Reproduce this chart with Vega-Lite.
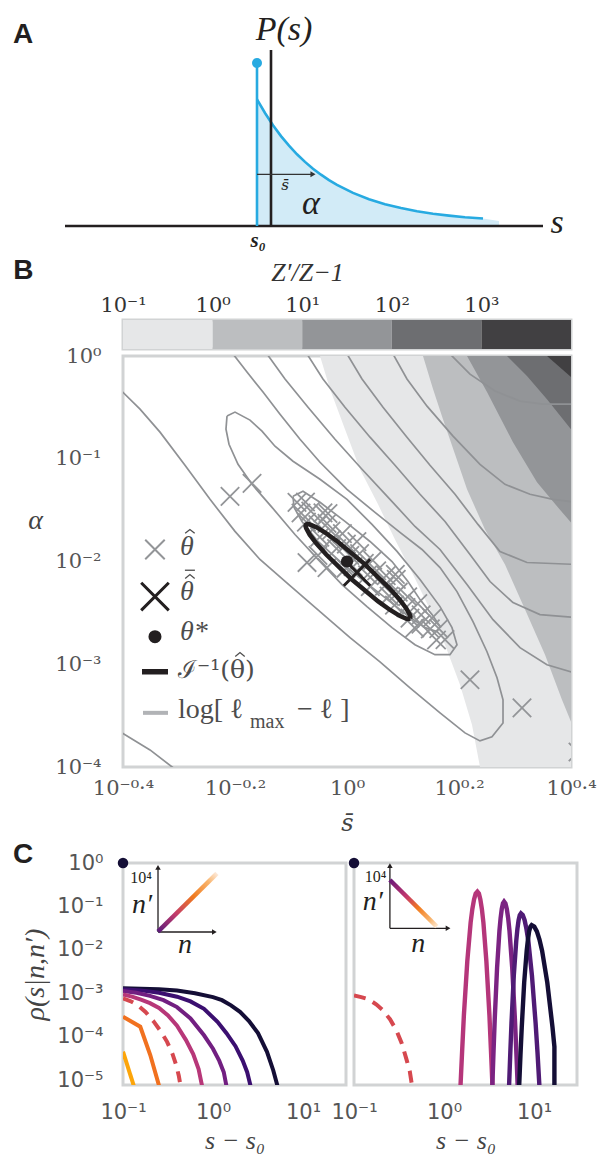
{
"$schema": "https://vega.github.io/schema/vega-lite/v6.json",
"background": "white",
"padding": 0,
"spacing": 7,
"bounds": "flush",
"resolve": {"scale": {"color": "independent"}},
"config": {"view": {"stroke": null}},
"datasets": {
"A_curve": [{"s":0,"P":1.267},{"s":0.2,"P":1.13},{"s":0.4,"P":1.008},{"s":0.6,"P":0.899},{"s":0.8,"P":0.803},{"s":1.0,"P":0.717},{"s":1.2,"P":0.641},{"s":1.4,"P":0.573},{"s":1.6,"P":0.513},{"s":1.8,"P":0.459},{"s":2.0,"P":0.411},{"s":2.4,"P":0.331},{"s":2.8,"P":0.268},{"s":3.2,"P":0.218},{"s":3.6,"P":0.179},{"s":4.0,"P":0.148},{"s":4.4,"P":0.123},{"s":4.8,"P":0.104},{"s":5.2,"P":0.088},{"s":5.65,"P":0.0745}],
"A_fill": [{"s":0,"P":1.267},{"s":0.2,"P":1.13},{"s":0.4,"P":1.008},{"s":0.6,"P":0.899},{"s":0.8,"P":0.803},{"s":1.0,"P":0.717},{"s":1.2,"P":0.641},{"s":1.4,"P":0.573},{"s":1.6,"P":0.513},{"s":1.8,"P":0.459},{"s":2.0,"P":0.411},{"s":2.4,"P":0.331},{"s":2.8,"P":0.268},{"s":3.2,"P":0.218},{"s":3.6,"P":0.179},{"s":4.0,"P":0.148},{"s":4.4,"P":0.123},{"s":4.8,"P":0.104},{"s":5.2,"P":0.088},{"s":5.65,"P":0.0745},{"s":6.05,"P":0.05}],
"R1": [{"lx":-0.0482,"ly":0},{"lx":-0.0304,"ly":-0.322},{"lx":-0.0036,"ly":-0.712},{"lx":0.0232,"ly":-1.102},{"lx":0.0554,"ly":-1.444},{"lx":0.0857,"ly":-1.785},{"lx":0.1179,"ly":-2.127},{"lx":0.1482,"ly":-2.468},{"lx":0.175,"ly":-2.81},{"lx":0.2018,"ly":-3.2},{"lx":0.2232,"ly":-3.59},{"lx":0.2375,"ly":-4}],
"R2": [{"lx":0.1357,"ly":0},{"lx":0.1536,"ly":-0.322},{"lx":0.1714,"ly":-0.615},{"lx":0.1929,"ly":-0.956},{"lx":0.2143,"ly":-1.298},{"lx":0.2464,"ly":-1.688},{"lx":0.2821,"ly":-2.029},{"lx":0.3179,"ly":-2.468},{"lx":0.3536,"ly":-2.907},{"lx":0.3839,"ly":-3.346},{"lx":0.4,"ly":-3.56}],
"R3": [{"lx":0.2143,"ly":0},{"lx":0.25,"ly":-0.351},{"lx":0.2964,"ly":-0.839},{"lx":0.3393,"ly":-1.229},{"lx":0.375,"ly":-1.463},{"lx":0.4,"ly":-1.62}],
"R4": [{"lx":0.2857,"ly":0},{"lx":0.3214,"ly":-0.195},{"lx":0.3571,"ly":-0.42},{"lx":0.4,"ly":-0.712}],
"R5": [{"lx":0.3571,"ly":0},{"lx":0.4,"ly":-0.205}],
"contours": [
{"id":"c1","i":0,"lx":-0.0964,"ly":-1.366},{"id":"c1","i":1,"lx":-0.0786,"ly":-1.317},{"id":"c1","i":2,"lx":-0.0482,"ly":-1.424},{"id":"c1","i":3,"lx":-0.0036,"ly":-1.61},{"id":"c1","i":4,"lx":0.0411,"ly":-1.805},{"id":"c1","i":5,"lx":0.0804,"ly":-2.0},{"id":"c1","i":6,"lx":0.1089,"ly":-2.195},{"id":"c1","i":7,"lx":0.1304,"ly":-2.371},{"id":"c1","i":8,"lx":0.1518,"ly":-2.517},{"id":"c1","i":9,"lx":0.1661,"ly":-2.634},{"id":"c1","i":10,"lx":0.1607,"ly":-2.683},{"id":"c1","i":11,"lx":0.1393,"ly":-2.644},{"id":"c1","i":12,"lx":0.1036,"ly":-2.507},{"id":"c1","i":13,"lx":0.0679,"ly":-2.351},{"id":"c1","i":14,"lx":0.0268,"ly":-2.176},{"id":"c1","i":15,"lx":-0.0125,"ly":-2.0},{"id":"c1","i":16,"lx":-0.0518,"ly":-1.805},{"id":"c1","i":17,"lx":-0.0804,"ly":-1.61},{"id":"c1","i":18,"lx":-0.0946,"ly":-1.473},{"id":"c1","i":19,"lx":-0.0964,"ly":-1.366},
{"id":"c2","i":0,"lx":-0.2143,"ly":-0.585},{"id":"c2","i":1,"lx":-0.2,"ly":-0.546},{"id":"c2","i":2,"lx":-0.1732,"ly":-0.624},{"id":"c2","i":3,"lx":-0.1518,"ly":-0.732},{"id":"c2","i":4,"lx":-0.1286,"ly":-0.878},{"id":"c2","i":5,"lx":-0.0964,"ly":-1.024},{"id":"c2","i":6,"lx":-0.0482,"ly":-1.2},{"id":"c2","i":7,"lx":0,"ly":-1.395},{"id":"c2","i":8,"lx":0.0446,"ly":-1.639},{"id":"c2","i":9,"lx":0.0893,"ly":-1.902},{"id":"c2","i":10,"lx":0.1304,"ly":-2.176},{"id":"c2","i":11,"lx":0.1661,"ly":-2.439},{"id":"c2","i":12,"lx":0.1875,"ly":-2.644},{"id":"c2","i":13,"lx":0.1964,"ly":-2.81},{"id":"c2","i":14,"lx":0.1839,"ly":-2.907},{"id":"c2","i":15,"lx":0.1571,"ly":-2.907},{"id":"c2","i":16,"lx":0.1214,"ly":-2.81},{"id":"c2","i":17,"lx":0.0804,"ly":-2.644},{"id":"c2","i":18,"lx":0.0357,"ly":-2.439},{"id":"c2","i":19,"lx":-0.0089,"ly":-2.224},{"id":"c2","i":20,"lx":-0.0518,"ly":-1.98},{"id":"c2","i":21,"lx":-0.0929,"ly":-1.737},{"id":"c2","i":22,"lx":-0.1339,"ly":-1.473},{"id":"c2","i":23,"lx":-0.1696,"ly":-1.249},{"id":"c2","i":24,"lx":-0.1946,"ly":-1.054},{"id":"c2","i":25,"lx":-0.2107,"ly":-0.859},{"id":"c2","i":26,"lx":-0.2161,"ly":-0.712},{"id":"c2","i":27,"lx":-0.2143,"ly":-0.585},
{"id":"c3","i":0,"lx":-0.2036,"ly":0.02},{"id":"c3","i":1,"lx":-0.1786,"ly":-0.156},{"id":"c3","i":2,"lx":-0.15,"ly":-0.351},{"id":"c3","i":3,"lx":-0.1196,"ly":-0.566},{"id":"c3","i":4,"lx":-0.0839,"ly":-0.81},{"id":"c3","i":5,"lx":-0.0482,"ly":-1.034},{"id":"c3","i":6,"lx":0,"ly":-1.298},{"id":"c3","i":7,"lx":0.05,"ly":-1.522},{"id":"c3","i":8,"lx":0.0946,"ly":-1.717},{"id":"c3","i":9,"lx":0.1339,"ly":-1.883},{"id":"c3","i":10,"lx":0.1661,"ly":-2.059},{"id":"c3","i":11,"lx":0.1964,"ly":-2.293},{"id":"c3","i":12,"lx":0.225,"ly":-2.585},{"id":"c3","i":13,"lx":0.25,"ly":-2.878},{"id":"c3","i":14,"lx":0.2679,"ly":-3.132},{"id":"c3","i":15,"lx":0.2786,"ly":-3.346},{"id":"c3","i":16,"lx":0.2786,"ly":-3.571},{"id":"c3","i":17,"lx":0.2589,"ly":-3.707},{"id":"c3","i":18,"lx":0.2375,"ly":-3.746},{"id":"c3","i":19,"lx":0.2107,"ly":-3.668},{"id":"c3","i":20,"lx":0.1661,"ly":-3.473},{"id":"c3","i":21,"lx":0.1125,"ly":-3.229},{"id":"c3","i":22,"lx":0.0589,"ly":-2.976},{"id":"c3","i":23,"lx":0.0054,"ly":-2.741},{"id":"c3","i":24,"lx":-0.0482,"ly":-2.488},{"id":"c3","i":25,"lx":-0.1018,"ly":-2.234},{"id":"c3","i":26,"lx":-0.1554,"ly":-1.98},{"id":"c3","i":27,"lx":-0.2,"ly":-1.707},{"id":"c3","i":28,"lx":-0.2446,"ly":-1.395},{"id":"c3","i":29,"lx":-0.2893,"ly":-1.063},{"id":"c3","i":30,"lx":-0.3339,"ly":-0.741},{"id":"c3","i":31,"lx":-0.3696,"ly":-0.517},{"id":"c3","i":32,"lx":-0.41,"ly":-0.3},
{"id":"k4","i":0,"lx":-0.1429,"ly":0.02},{"id":"k4","i":1,"lx":-0.1107,"ly":-0.224},{"id":"k4","i":2,"lx":-0.0696,"ly":-0.498},{"id":"k4","i":3,"lx":-0.0214,"ly":-0.81},{"id":"k4","i":4,"lx":0.0268,"ly":-1.102},{"id":"k4","i":5,"lx":0.0768,"ly":-1.395},{"id":"k4","i":6,"lx":0.1214,"ly":-1.659},{"id":"k4","i":7,"lx":0.1661,"ly":-1.883},{"id":"k4","i":8,"lx":0.2143,"ly":-2.224},{"id":"k4","i":9,"lx":0.2607,"ly":-2.566},{"id":"k4","i":10,"lx":0.3089,"ly":-2.839},{"id":"k4","i":11,"lx":0.3571,"ly":-3.005},{"id":"k4","i":12,"lx":0.41,"ly":-3.09},
{"id":"k5","i":0,"lx":-0.0714,"ly":0.02},{"id":"k5","i":1,"lx":-0.0429,"ly":-0.224},{"id":"k5","i":2,"lx":-0.0036,"ly":-0.498},{"id":"k5","i":3,"lx":0.0411,"ly":-0.79},{"id":"k5","i":4,"lx":0.0857,"ly":-1.063},{"id":"k5","i":5,"lx":0.1304,"ly":-1.346},{"id":"k5","i":6,"lx":0.175,"ly":-1.61},{"id":"k5","i":7,"lx":0.2196,"ly":-1.932},{"id":"k5","i":8,"lx":0.2554,"ly":-2.195},{"id":"k5","i":9,"lx":0.2964,"ly":-2.4},{"id":"k5","i":10,"lx":0.3446,"ly":-2.517},{"id":"k5","i":11,"lx":0.41,"ly":-2.546},
{"id":"k6","i":0,"lx":0,"ly":0.02},{"id":"k6","i":1,"lx":0.0268,"ly":-0.224},{"id":"k6","i":2,"lx":0.0643,"ly":-0.498},{"id":"k6","i":3,"lx":0.1071,"ly":-0.79},{"id":"k6","i":4,"lx":0.1482,"ly":-1.063},{"id":"k6","i":5,"lx":0.1929,"ly":-1.346},{"id":"k6","i":6,"lx":0.2339,"ly":-1.639},{"id":"k6","i":7,"lx":0.2732,"ly":-1.902},{"id":"k6","i":8,"lx":0.3214,"ly":-2.01},{"id":"k6","i":9,"lx":0.41,"ly":-2.029},
{"id":"k7","i":0,"lx":0.0821,"ly":0.02},{"id":"k7","i":1,"lx":0.1071,"ly":-0.224},{"id":"k7","i":2,"lx":0.1429,"ly":-0.488},{"id":"k7","i":3,"lx":0.1893,"ly":-0.78},{"id":"k7","i":4,"lx":0.2375,"ly":-1.054},{"id":"k7","i":5,"lx":0.2821,"ly":-1.249},{"id":"k7","i":6,"lx":0.3268,"ly":-1.346},{"id":"k7","i":7,"lx":0.3679,"ly":-1.395},{"id":"k7","i":8,"lx":0.41,"ly":-1.424},
{"id":"k8","i":0,"lx":0.1839,"ly":0.02},{"id":"k8","i":1,"lx":0.2196,"ly":-0.176},{"id":"k8","i":2,"lx":0.2643,"ly":-0.341},{"id":"k8","i":3,"lx":0.3089,"ly":-0.439},{"id":"k8","i":4,"lx":0.35,"ly":-0.468},{"id":"k8","i":5,"lx":0.41,"ly":-0.468},
{"id":"bl","i":0,"lx":-0.41,"ly":-3.64},{"id":"bl","i":1,"lx":-0.3518,"ly":-3.834},{"id":"bl","i":2,"lx":-0.305,"ly":-4.03}
],
"crosses": [
{"lx":-0.0893,"ly":-1.424},{"lx":-0.0741,"ly":-1.421},{"lx":-0.0821,"ly":-1.528},{"lx":-0.0646,"ly":-1.51},{"lx":-0.0725,"ly":-1.616},{"lx":-0.0429,"ly":-1.527},{"lx":-0.0521,"ly":-1.64},{"lx":-0.0357,"ly":-1.629},{"lx":-0.0486,"ly":-1.763},{"lx":-0.0286,"ly":-1.703},{"lx":-0.028,"ly":-1.787},{"lx":-0.0082,"ly":-1.728},{"lx":-0.0186,"ly":-1.875},{"lx":-0.0011,"ly":-1.83},{"lx":0.0177,"ly":-1.806},{"lx":0.005,"ly":-1.94},{"lx":0.0225,"ly":-1.923},{"lx":0.0109,"ly":-2.05},{"lx":0.0309,"ly":-2.019},{"lx":0.0459,"ly":-1.988},{"lx":0.0368,"ly":-2.129},{"lx":0.053,"ly":-2.091},{"lx":0.0416,"ly":-2.245},{"lx":0.07,"ly":-2.137},{"lx":0.0668,"ly":-2.241},{"lx":0.088,"ly":-2.174},{"lx":0.0752,"ly":-2.336},{"lx":0.0914,"ly":-2.299},{"lx":0.0848,"ly":-2.424},{"lx":0.1084,"ly":-2.343},{"lx":0.1054,"ly":-2.449},{"lx":0.1264,"ly":-2.41},{"lx":0.1125,"ly":-2.551},{"lx":0.1325,"ly":-2.519},{"lx":0.132,"ly":-2.61},{"lx":0.1518,"ly":-2.551},{"lx":0.1488,"ly":-2.656},{"lx":0.1639,"ly":-2.653},{"lx":0.1598,"ly":-2.764},{"lx":0.175,"ly":-2.761},{"lx":-0.0018,"ly":-2.066},{"lx":0.0863,"ly":-2.126},{"lx":-0.0339,"ly":-1.533},{"lx":0.1209,"ly":-2.647},{"lx":-0.0714,"ly":-2.01},{"lx":-0.0357,"ly":-2.059},{"lx":-0.0518,"ly":-1.941},
{"lx":-0.2089,"ly":-1.366},{"lx":-0.1696,"ly":-1.239},{"lx":0.2196,"ly":-3.151},{"lx":0.3125,"ly":-3.424},{"lx":0.4125,"ly":-3.854}
],
"ellipse": [
{"i":0,"lx":0.1125,"ly":-2.554},{"i":1,"lx":0.1132,"ly":-2.541},{"i":2,"lx":0.1123,"ly":-2.52},{"i":3,"lx":0.1059,"ly":-2.457},{"i":4,"lx":0.0938,"ly":-2.369},{"i":5,"lx":0.0764,"ly":-2.263},{"i":6,"lx":0.0316,"ly":-2.025},{"i":7,"lx":-0.0164,"ly":-1.807},{"i":8,"lx":-0.0377,"ly":-1.723},{"i":9,"lx":-0.0548,"ly":-1.666},{"i":10,"lx":-0.067,"ly":-1.638},{"i":11,"lx":-0.0709,"ly":-1.635},{"i":12,"lx":-0.0732,"ly":-1.641},{"i":13,"lx":-0.0741,"ly":-1.655},{"i":14,"lx":-0.073,"ly":-1.675},{"i":15,"lx":-0.0666,"ly":-1.739},{"i":16,"lx":-0.0545,"ly":-1.826},{"i":17,"lx":-0.0371,"ly":-1.932},{"i":18,"lx":0.0077,"ly":-2.17},{"i":19,"lx":0.0557,"ly":-2.388},{"i":20,"lx":0.077,"ly":-2.472},{"i":21,"lx":0.0941,"ly":-2.529},{"i":22,"lx":0.1063,"ly":-2.557},{"i":23,"lx":0.1102,"ly":-2.56},{"i":24,"lx":0.1125,"ly":-2.554}
],
"CL": [
{"id":"c1","i":0,"lx":-1,"ly":-2.887},{"id":"c1","i":1,"lx":-0.8,"ly":-2.895},{"id":"c1","i":2,"lx":-0.6,"ly":-2.91},{"id":"c1","i":3,"lx":-0.4,"ly":-2.94},{"id":"c1","i":4,"lx":-0.2,"ly":-3.0},{"id":"c1","i":5,"lx":0,"ly":-3.09},{"id":"c1","i":6,"lx":0.1,"ly":-3.16},{"id":"c1","i":7,"lx":0.2,"ly":-3.28},{"id":"c1","i":8,"lx":0.3,"ly":-3.43},{"id":"c1","i":9,"lx":0.4,"ly":-3.64},{"id":"c1","i":10,"lx":0.5,"ly":-3.92},{"id":"c1","i":11,"lx":0.6,"ly":-4.35},{"id":"c1","i":12,"lx":0.67,"ly":-4.78},{"id":"c1","i":13,"lx":0.725,"ly":-5.2},
{"id":"c2","i":0,"lx":-1,"ly":-2.91},{"id":"c2","i":1,"lx":-0.8,"ly":-2.935},{"id":"c2","i":2,"lx":-0.6,"ly":-2.99},{"id":"c2","i":3,"lx":-0.4,"ly":-3.08},{"id":"c2","i":4,"lx":-0.25,"ly":-3.19},{"id":"c2","i":5,"lx":-0.1,"ly":-3.36},{"id":"c2","i":6,"lx":0.05,"ly":-3.66},{"id":"c2","i":7,"lx":0.15,"ly":-3.92},{"id":"c2","i":8,"lx":0.25,"ly":-4.22},{"id":"c2","i":9,"lx":0.33,"ly":-4.55},{"id":"c2","i":10,"lx":0.38,"ly":-4.82},{"id":"c2","i":11,"lx":0.425,"ly":-5.2},
{"id":"c3","i":0,"lx":-1,"ly":-2.95},{"id":"c3","i":1,"lx":-0.85,"ly":-2.99},{"id":"c3","i":2,"lx":-0.7,"ly":-3.06},{"id":"c3","i":3,"lx":-0.55,"ly":-3.16},{"id":"c3","i":4,"lx":-0.4,"ly":-3.32},{"id":"c3","i":5,"lx":-0.25,"ly":-3.58},{"id":"c3","i":6,"lx":-0.1,"ly":-3.97},{"id":"c3","i":7,"lx":0,"ly":-4.28},{"id":"c3","i":8,"lx":0.07,"ly":-4.56},{"id":"c3","i":9,"lx":0.12,"ly":-4.82},{"id":"c3","i":10,"lx":0.155,"ly":-5.2},
{"id":"c4","i":0,"lx":-1,"ly":-3.03},{"id":"c4","i":1,"lx":-0.9,"ly":-3.08},{"id":"c4","i":2,"lx":-0.8,"ly":-3.15},{"id":"c4","i":3,"lx":-0.7,"ly":-3.23},{"id":"c4","i":4,"lx":-0.6,"ly":-3.34},{"id":"c4","i":5,"lx":-0.5,"ly":-3.51},{"id":"c4","i":6,"lx":-0.4,"ly":-3.75},{"id":"c4","i":7,"lx":-0.3,"ly":-4.08},{"id":"c4","i":8,"lx":-0.22,"ly":-4.4},{"id":"c4","i":9,"lx":-0.16,"ly":-4.75},{"id":"c4","i":10,"lx":-0.115,"ly":-5.2},
{"id":"c6","i":0,"lx":-1,"ly":-3.541},{"id":"c6","i":1,"lx":-0.808,"ly":-3.772},{"id":"c6","i":2,"lx":-0.697,"ly":-4.424},{"id":"c6","i":3,"lx":-0.59,"ly":-5.2},
{"id":"c7","i":0,"lx":-1,"ly":-4.347},{"id":"c7","i":1,"lx":-0.87,"ly":-5.2}
],
"CL_dash": [{"i":0,"lx":-1,"ly":-3.12},{"i":1,"lx":-0.92,"ly":-3.18},{"i":2,"lx":-0.84,"ly":-3.27},{"i":3,"lx":-0.75,"ly":-3.43},{"i":4,"lx":-0.66,"ly":-3.65},{"i":5,"lx":-0.58,"ly":-3.88},{"i":6,"lx":-0.51,"ly":-4.12},{"i":7,"lx":-0.45,"ly":-4.4},{"i":8,"lx":-0.41,"ly":-4.65},{"i":9,"lx":-0.38,"ly":-4.9},{"i":10,"lx":-0.355,"ly":-5.2}],
"CR_dash": [{"i":0,"lx":-1,"ly":-3.05},{"i":1,"lx":-0.92,"ly":-3.09},{"i":2,"lx":-0.84,"ly":-3.14},{"i":3,"lx":-0.75,"ly":-3.26},{"i":4,"lx":-0.68,"ly":-3.39},{"i":5,"lx":-0.6,"ly":-3.6},{"i":6,"lx":-0.53,"ly":-3.85},{"i":7,"lx":-0.47,"ly":-4.15},{"i":8,"lx":-0.42,"ly":-4.5},{"i":9,"lx":-0.38,"ly":-4.8},{"i":10,"lx":-0.35,"ly":-5.2}],
"CR_peaks": [
{"id":"p1","i":0,"lx":0.182,"ly":-5.2},{"id":"p1","i":1,"lx":0.203,"ly":-4.269},{"id":"p1","i":2,"lx":0.221,"ly":-3.511},{"id":"p1","i":3,"lx":0.259,"ly":-2.264},{"id":"p1","i":4,"lx":0.296,"ly":-1.373},{"id":"p1","i":5,"lx":0.315,"ly":-1.061},{"id":"p1","i":6,"lx":0.334,"ly":-0.838},{"id":"p1","i":7,"lx":0.352,"ly":-0.705},{"id":"p1","i":8,"lx":0.371,"ly":-0.66},{"id":"p1","i":9,"lx":0.388,"ly":-0.705},{"id":"p1","i":10,"lx":0.404,"ly":-0.838},{"id":"p1","i":11,"lx":0.421,"ly":-1.061},{"id":"p1","i":12,"lx":0.438,"ly":-1.373},{"id":"p1","i":13,"lx":0.471,"ly":-2.264},{"id":"p1","i":14,"lx":0.505,"ly":-3.511},{"id":"p1","i":15,"lx":0.521,"ly":-4.269},{"id":"p1","i":16,"lx":0.54,"ly":-5.2},
{"id":"p2","i":0,"lx":0.536,"ly":-5.2},{"id":"p2","i":1,"lx":0.551,"ly":-4.312},{"id":"p2","i":2,"lx":0.564,"ly":-3.594},{"id":"p2","i":3,"lx":0.59,"ly":-2.411},{"id":"p2","i":4,"lx":0.616,"ly":-1.566},{"id":"p2","i":5,"lx":0.629,"ly":-1.27},{"id":"p2","i":6,"lx":0.642,"ly":-1.059},{"id":"p2","i":7,"lx":0.655,"ly":-0.932},{"id":"p2","i":8,"lx":0.668,"ly":-0.89},{"id":"p2","i":9,"lx":0.683,"ly":-0.932},{"id":"p2","i":10,"lx":0.698,"ly":-1.059},{"id":"p2","i":11,"lx":0.713,"ly":-1.27},{"id":"p2","i":12,"lx":0.728,"ly":-1.566},{"id":"p2","i":13,"lx":0.758,"ly":-2.411},{"id":"p2","i":14,"lx":0.788,"ly":-3.594},{"id":"p2","i":15,"lx":0.803,"ly":-4.312},{"id":"p2","i":16,"lx":0.82,"ly":-5.2},
{"id":"p3","i":0,"lx":0.722,"ly":-5.2},{"id":"p3","i":1,"lx":0.737,"ly":-4.364},{"id":"p3","i":2,"lx":0.75,"ly":-3.691},{"id":"p3","i":3,"lx":0.776,"ly":-2.584},{"id":"p3","i":4,"lx":0.803,"ly":-1.793},{"id":"p3","i":5,"lx":0.816,"ly":-1.516},{"id":"p3","i":6,"lx":0.829,"ly":-1.318},{"id":"p3","i":7,"lx":0.842,"ly":-1.2},{"id":"p3","i":8,"lx":0.855,"ly":-1.16},{"id":"p3","i":9,"lx":0.875,"ly":-1.2},{"id":"p3","i":10,"lx":0.896,"ly":-1.318},{"id":"p3","i":11,"lx":0.916,"ly":-1.516},{"id":"p3","i":12,"lx":0.937,"ly":-1.793},{"id":"p3","i":13,"lx":0.977,"ly":-2.584},{"id":"p3","i":14,"lx":1.018,"ly":-3.691},{"id":"p3","i":15,"lx":1.039,"ly":-4.364},{"id":"p3","i":16,"lx":1.062,"ly":-5.2},
{"id":"p4","i":0,"lx":0.834,"ly":-5.2},{"id":"p4","i":1,"lx":0.85,"ly":-4.415},{"id":"p4","i":2,"lx":0.864,"ly":-3.788},{"id":"p4","i":3,"lx":0.891,"ly":-2.757},{"id":"p4","i":4,"lx":0.919,"ly":-2.02},{"id":"p4","i":5,"lx":0.933,"ly":-1.762},{"id":"p4","i":6,"lx":0.946,"ly":-1.577},{"id":"p4","i":7,"lx":0.96,"ly":-1.467},{"id":"p4","i":8,"lx":0.974,"ly":-1.43},{"id":"p4","i":9,"lx":1.003,"ly":-1.467},{"id":"p4","i":10,"lx":1.032,"ly":-1.577},{"id":"p4","i":11,"lx":1.061,"ly":-1.762},{"id":"p4","i":12,"lx":1.09,"ly":-2.02},{"id":"p4","i":13,"lx":1.148,"ly":-2.757},{"id":"p4","i":14,"lx":1.206,"ly":-3.788},{"id":"p4","i":15,"lx":1.227,"ly":-4.233},{"id":"p4","i":16,"lx":1.227,"ly":-5.2}
]
},
"vconcat": [
{
"width": 448, "height": 277,
"encoding": {
"x": {"field": "s", "type": "quantitative", "scale": {"domain": [-3.35, 7.85], "nice": false, "zero": false}, "axis": null},
"y": {"field": "P", "type": "quantitative", "scale": {"domain": [-0.87, 1.9], "nice": false, "zero": false}, "axis": null}
},
"layer": [
{"data": {"values": [{"s": -6.425, "P": 2.26, "s2": -6.3, "P2": 2.2}]}, "mark": {"type": "rect", "fill": "white"}, "encoding": {"x2": {"field": "s2"}, "y2": {"field": "P2"}}},
{"data": {"name": "A_fill"}, "mark": {"type": "area", "color": "#d2ebf7"}, "encoding": {"y2": {"datum": 0}}},
{"data": {"name": "A_curve"}, "mark": {"type": "line", "color": "#27aae1", "strokeWidth": 2.6}, "encoding": {}},
{"data": {"values": [{"s": -4.8, "s2": 7.15, "P": 0}]}, "mark": {"type": "rule", "color": "#231f20", "strokeWidth": 2.6}, "encoding": {"x2": {"field": "s2"}}},
{"data": {"values": [{"s": 0, "P": 0, "P2": 1.63}]}, "mark": {"type": "rule", "color": "#27aae1", "strokeWidth": 2.6}, "encoding": {"y2": {"field": "P2"}}},
{"data": {"values": [{"s": 0, "P": 1.63}]}, "mark": {"type": "point", "filled": true, "opacity": 1, "color": "#27aae1", "size": 100}, "encoding": {}},
{"data": {"values": [{"s": 0.35, "P": 0, "P2": 1.76}]}, "mark": {"type": "rule", "color": "#231f20", "strokeWidth": 2.6}, "encoding": {"y2": {"field": "P2"}}},
{"data": {"values": [{"s": 0, "s2": 1.35, "P": 0.517}]}, "mark": {"type": "rule", "color": "#333333", "strokeWidth": 1.2}, "encoding": {"x2": {"field": "s2"}}},
{"data": {"values": [{"s": 1.4, "P": 0.517}]}, "mark": {"type": "point", "shape": "triangle-right", "filled": true, "opacity": 1, "color": "#333333", "size": 35}, "encoding": {}},
{"data": {"values": [{"s": 0.675, "P": 1.96, "label": "P(s)"}, {"s": 7.5, "P": 0.03, "label": "s"}, {"s": 1.35, "P": 0.22, "label": "α"}]}, "mark": {"type": "text", "font": "Liberation Serif", "fontStyle": "italic", "fontSize": 34, "color": "#231f20", "baseline": "middle", "align": "center"}, "encoding": {"text": {"field": "label", "type": "nominal"}}},
{"data": {"values": [{"s": 0.7, "P": 0.41, "label": "s̄"}]}, "mark": {"type": "text", "font": "DejaVu Serif", "fontStyle": "italic", "fontSize": 15, "color": "#231f20", "baseline": "middle", "align": "center"}, "encoding": {"text": {"field": "label", "type": "nominal"}}},
{"data": {"values": [{"s": 0.03, "P": -0.15, "label": "s₀"}]}, "mark": {"type": "text", "font": "Liberation Serif", "fontStyle": "italic", "fontWeight": "bold", "fontSize": 21, "color": "#231f20", "baseline": "middle", "align": "center"}, "encoding": {"text": {"field": "label", "type": "nominal"}}},
{"data": {"values": [{"s": -6.1, "P": 1.91, "label": "A"}]}, "mark": {"type": "text", "font": "Liberation Sans", "fontWeight": "bold", "fontSize": 28, "color": "#231f20", "baseline": "middle", "align": "left"}, "encoding": {"text": {"field": "label", "type": "nominal"}}}
]
},
{
"width": 448, "height": 29,
"view": {"stroke": "#d1d3d4", "strokeWidth": 3},
"data": {"values": [{"lo": 0.1, "hi": 1, "c": "a"}, {"lo": 1, "hi": 10, "c": "b"}, {"lo": 10, "hi": 100, "c": "c"}, {"lo": 100, "hi": 1000, "c": "d"}, {"lo": 1000, "hi": 10000, "c": "e"}]},
"mark": {"type": "rect"},
"encoding": {
"x": {"field": "lo", "type": "quantitative", "scale": {"type": "log", "domain": [0.1, 10000], "nice": false}, "axis": {"orient": "top", "values": [0.1, 1, 10, 100, 1000], "labelExpr": "datum.value < 0.5 ? '10⁻¹' : datum.value < 5 ? '10⁰' : datum.value < 50 ? '10¹' : datum.value < 500 ? '10²' : '10³'", "labelFont": "DejaVu Serif", "labelFontSize": 21, "labelColor": "#333333", "labelPadding": 5, "ticks": false, "domain": false, "grid": false, "labelFlush": false, "labelOverlap": false, "title": "Z′/Z−1", "titleFont": "Liberation Serif", "titleFontStyle": "italic", "titleFontWeight": "normal", "titleFontSize": 26, "titleColor": "#333333", "titleX": 184, "titleY": -48, "titleBaseline": "middle", "titleAlign": "center"}},
"x2": {"field": "hi"},
"color": {"field": "c", "type": "nominal", "scale": {"domain": ["a", "b", "c", "d", "e"], "range": ["#e6e7e8", "#bcbec0", "#939598", "#6d6e71", "#414042"]}, "legend": null}
}
},
{
"width": 448, "height": 411,
"view": {"stroke": "#d1d3d4", "strokeWidth": 3},
"encoding": {
"x": {"field": "lx", "type": "quantitative", "scale": {"domain": [-0.4, 0.4], "nice": false, "zero": false}, "axis": {"values": [-0.4, -0.2, 0, 0.2, 0.4], "labelExpr": "datum.value < -0.3 ? '10⁻⁰·⁴' : datum.value < -0.1 ? '10⁻⁰·²' : datum.value < 0.1 ? '10⁰' : datum.value < 0.3 ? '10⁰·²' : '10⁰·⁴'", "labelFont": "DejaVu Serif", "labelFontSize": 21, "labelColor": "#555555", "labelPadding": 10, "ticks": false, "domain": false, "grid": false, "labelFlush": false, "labelOverlap": false, "title": "s̄", "titleFont": "DejaVu Serif", "titleFontStyle": "italic", "titleFontWeight": "normal", "titleFontSize": 24, "titleColor": "#444444", "titleY": 56, "titleBaseline": "middle"}},
"y": {"field": "ly", "type": "quantitative", "scale": {"domain": [-4, 0], "nice": false, "zero": false}, "axis": {"values": [-4, -3, -2, -1, 0], "labelExpr": "datum.value > -0.5 ? '10⁰' : datum.value > -1.5 ? '10⁻¹' : datum.value > -2.5 ? '10⁻²' : datum.value > -3.5 ? '10⁻³' : '10⁻⁴'", "labelFont": "DejaVu Serif", "labelFontSize": 21, "labelColor": "#555555", "labelPadding": 22, "ticks": false, "domain": false, "grid": false, "labelFlush": false, "labelOverlap": false, "title": "α", "titleFont": "Liberation Serif", "titleFontStyle": "italic", "titleFontWeight": "normal", "titleFontSize": 28, "titleColor": "#444444", "titleAngle": 0, "titleX": -88, "titleY": 164, "titleBaseline": "middle", "titleAlign": "center"}}
},
"layer": [
{"data": {"name": "R1"}, "mark": {"type": "area", "orient": "horizontal", "color": "#e6e7e8", "clip": true}, "encoding": {"x2": {"datum": 0.4}}},
{"data": {"name": "R2"}, "mark": {"type": "area", "orient": "horizontal", "color": "#bcbec0", "clip": true}, "encoding": {"x2": {"datum": 0.4}}},
{"data": {"name": "R3"}, "mark": {"type": "area", "orient": "horizontal", "color": "#939598", "clip": true}, "encoding": {"x2": {"datum": 0.4}}},
{"data": {"name": "R4"}, "mark": {"type": "area", "orient": "horizontal", "color": "#6d6e71", "clip": true}, "encoding": {"x2": {"datum": 0.4}}},
{"data": {"name": "R5"}, "mark": {"type": "area", "orient": "horizontal", "color": "#414042", "clip": true}, "encoding": {"x2": {"datum": 0.4}}},
{"data": {"name": "contours"}, "mark": {"type": "line", "color": "#8f9194", "strokeWidth": 1.7, "clip": true}, "encoding": {"detail": {"field": "id", "type": "nominal"}, "order": {"field": "i", "type": "quantitative"}}},
{"data": {"name": "crosses"}, "mark": {"type": "point", "shape": "M-1,-1L1,1M-1,1L1,-1", "filled": false, "opacity": 1, "color": "#939598", "strokeWidth": 1.8, "size": 340, "clip": true}, "encoding": {}},
{"data": {"name": "ellipse"}, "mark": {"type": "line", "color": "#231f20", "strokeWidth": 4.5}, "encoding": {"order": {"field": "i", "type": "quantitative"}}},
{"data": {"values": [{"lx": 0.0179, "ly": -2.107}]}, "mark": {"type": "point", "shape": "M-1,-1L1,1M-1,1L1,-1", "filled": false, "opacity": 1, "color": "#231f20", "strokeWidth": 3, "size": 700}, "encoding": {}},
{"data": {"values": [{"lx": 0, "ly": -2}]}, "mark": {"type": "point", "shape": "circle", "filled": true, "opacity": 1, "color": "#231f20", "size": 150}, "encoding": {}},
{"data": {"values": [{"lx": -0.3429, "ly": -1.883}]}, "mark": {"type": "point", "shape": "M-1,-1L1,1M-1,1L1,-1", "filled": false, "opacity": 1, "color": "#939598", "strokeWidth": 2, "size": 380}, "encoding": {}},
{"data": {"values": [{"lx": -0.3429, "ly": -2.341}]}, "mark": {"type": "point", "shape": "M-1,-1L1,1M-1,1L1,-1", "filled": false, "opacity": 1, "color": "#231f20", "strokeWidth": 3, "size": 760}, "encoding": {}},
{"data": {"values": [{"lx": -0.3429, "ly": -2.732}]}, "mark": {"type": "point", "shape": "circle", "filled": true, "opacity": 1, "color": "#231f20", "size": 170}, "encoding": {}},
{"data": {"values": [{"lx": -0.3661, "lx2": -0.3196, "ly": -3.073}]}, "mark": {"type": "rule", "color": "#231f20", "strokeWidth": 5.5}, "encoding": {"x2": {"field": "lx2"}}},
{"data": {"values": [{"lx": -0.3643, "lx2": -0.3196, "ly": -3.473}]}, "mark": {"type": "rule", "color": "#b1b3b6", "strokeWidth": 4}, "encoding": {"x2": {"field": "lx2"}}},
{"data": {"values": [{"lx": -0.2982, "ly": -1.86, "label": "θ"}, {"lx": -0.2982, "ly": -2.3, "label": "θ"}, {"lx": -0.2982, "ly": -2.69, "label": "θ*"}]}, "mark": {"type": "text", "font": "Liberation Serif", "fontStyle": "italic", "fontSize": 28, "color": "#4d4d4d", "baseline": "middle", "align": "left"}, "encoding": {"text": {"field": "label", "type": "nominal"}}},
{"data": {"values": [{"lx": -0.2805, "ly": -1.707}, {"lx": -0.2805, "ly": -2.146}, {"lx": -0.1911, "ly": -2.905}]}, "mark": {"type": "point", "shape": "M-1,0.4L0,-0.4L1,0.4", "filled": false, "opacity": 1, "color": "#4d4d4d", "strokeWidth": 1.3, "size": 90}, "encoding": {}},
{"data": {"values": [{"lx": -0.2805, "ly": -2.085}]}, "mark": {"type": "point", "shape": "M-1,0L1,0", "filled": false, "opacity": 1, "color": "#4d4d4d", "strokeWidth": 1.3, "size": 100}, "encoding": {}},
{"data": {"values": [{"lx": -0.3018, "ly": -3.054, "label": "ℐ⁻¹(θ)"}]}, "mark": {"type": "text", "font": "DejaVu Serif", "fontSize": 25, "color": "#4d4d4d", "baseline": "middle", "align": "left"}, "encoding": {"text": {"field": "label", "type": "nominal"}}},
{"data": {"values": [{"lx": -0.3018, "ly": -3.444, "label": "log[ ℓ"}, {"lx": -0.0893, "ly": -3.444, "label": "− ℓ ]"}]}, "mark": {"type": "text", "font": "Liberation Serif", "fontSize": 28, "color": "#4d4d4d", "baseline": "middle", "align": "left"}, "encoding": {"text": {"field": "label", "type": "nominal"}}},
{"data": {"values": [{"lx": -0.1732, "ly": -3.561, "label": "max"}]}, "mark": {"type": "text", "font": "Liberation Serif", "fontSize": 20, "color": "#4d4d4d", "baseline": "middle", "align": "left"}, "encoding": {"text": {"field": "label", "type": "nominal"}}},
{"data": {"values": [{"lx": -0.596, "ly": 0.829, "label": "B"}]}, "mark": {"type": "text", "font": "Liberation Sans", "fontWeight": "bold", "fontSize": 28, "color": "#231f20", "baseline": "middle", "align": "left"}, "encoding": {"text": {"field": "label", "type": "nominal"}}}
]
},
{"width": 1, "height": 82, "data": {"values": [{}]}, "mark": {"type": "point", "opacity": 0}},
{
"hconcat": [
{
"width": 223, "height": 222,
"view": {"stroke": "#d1d3d4", "strokeWidth": 3},
"encoding": {
"x": {"field": "lx", "type": "quantitative", "scale": {"domain": [-1, 1.478], "nice": false, "zero": false}, "axis": {"values": [-1, 0, 1], "labelExpr": "datum.value < -0.5 ? '10⁻¹' : datum.value < 0.5 ? '10⁰' : '10¹'", "labelFont": "DejaVu Sans", "labelFontSize": 21, "labelColor": "#555555", "labelPadding": 16, "ticks": false, "domain": false, "grid": false, "labelFlush": false, "labelOverlap": false, "title": "s − s₀", "titleFont": "Liberation Serif", "titleFontStyle": "italic", "titleFontWeight": "normal", "titleFontSize": 26, "titleColor": "#444444", "titleY": 55, "titleBaseline": "middle"}},
"y": {"field": "ly", "type": "quantitative", "scale": {"domain": [-5.115, 0], "nice": false, "zero": false}, "axis": {"values": [-5, -4, -3, -2, -1, 0], "labelExpr": "datum.value > -0.5 ? '10⁰' : datum.value > -1.5 ? '10⁻¹' : datum.value > -2.5 ? '10⁻²' : datum.value > -3.5 ? '10⁻³' : datum.value > -4.5 ? '10⁻⁴' : '10⁻⁵'", "labelFont": "DejaVu Sans", "labelFontSize": 21, "labelColor": "#555555", "labelPadding": 20, "ticks": false, "domain": false, "grid": false, "labelFlush": false, "labelOverlap": false, "title": "ρ(s|n,n′)", "titleFont": "Liberation Serif", "titleFontStyle": "italic", "titleFontWeight": "normal", "titleFontSize": 28, "titleColor": "#444444", "titleAngle": -90, "titleX": -88, "titleY": 111, "titleBaseline": "middle", "titleAlign": "center"}}
},
"layer": [
{"data": {"name": "CL"}, "mark": {"type": "line", "strokeWidth": 4, "clip": true}, "encoding": {"color": {"field": "id", "type": "nominal", "scale": {"domain": ["c7", "c6", "c4", "c3", "c2", "c1"], "range": ["#fca50a", "#f1711f", "#b73779", "#721f81", "#3b0f70", "#140e36"]}, "legend": null}, "order": {"field": "i", "type": "quantitative"}}},
{"data": {"name": "CL_dash"}, "mark": {"type": "line", "strokeWidth": 4, "color": "#d6484f", "strokeDash": [11, 8], "clip": true}, "encoding": {"order": {"field": "i", "type": "quantitative"}}},
{"data": {"values": [{"lx": -0.611, "ly": -1.59, "lx2": -0.611, "ly2": -0.12}, {"lx": -0.611, "ly": -1.59, "lx2": 0.0, "ly2": -1.59}]}, "mark": {"type": "rule", "color": "#231f20", "strokeWidth": 1.3}, "encoding": {"x2": {"field": "lx2"}, "y2": {"field": "ly2"}}},
{"data": {"values": [{"lx": -0.611, "ly": -0.1}]}, "mark": {"type": "point", "shape": "triangle-up", "filled": true, "opacity": 1, "color": "#231f20", "size": 30}, "encoding": {}},
{"data": {"values": [{"lx": 0.015, "ly": -1.59}]}, "mark": {"type": "point", "shape": "triangle-right", "filled": true, "opacity": 1, "color": "#231f20", "size": 30}, "encoding": {}},
{"data": {"values": [{"lx": -0.611, "ly": -1.583, "lx2": 0.044, "ly2": -0.237}]}, "mark": {"type": "rule", "strokeWidth": 4.5, "stroke": {"gradient": "linear", "x1": 0, "y1": 1, "x2": 1, "y2": 0, "stops": [{"offset": 0, "color": "#5a1c7b"}, {"offset": 0.3, "color": "#c23a6b"}, {"offset": 0.6, "color": "#f07a1e"}, {"offset": 0.85, "color": "#f9b36a"}, {"offset": 1, "color": "#fdeadb"}]}}, "encoding": {"x2": {"field": "lx2"}, "y2": {"field": "ly2"}}},
{"data": {"values": [{"lx": -0.68, "ly": -0.346, "label": "10⁴"}]}, "mark": {"type": "text", "font": "Liberation Serif", "fontSize": 16, "color": "#231f20", "baseline": "middle", "align": "right"}, "encoding": {"text": {"field": "label", "type": "nominal"}}},
{"data": {"values": [{"lx": -0.789, "ly": -0.968, "label": "n′"}, {"lx": -0.311, "ly": -1.89, "label": "n"}]}, "mark": {"type": "text", "font": "Liberation Serif", "fontStyle": "italic", "fontSize": 28, "color": "#231f20", "baseline": "middle", "align": "center"}, "encoding": {"text": {"field": "label", "type": "nominal"}}},
{"data": {"values": [{"lx": -1, "ly": 0}]}, "mark": {"type": "point", "shape": "circle", "filled": true, "opacity": 1, "color": "#140e36", "size": 110}, "encoding": {}},
{"data": {"values": [{"lx": -2.222, "ly": 0.184, "label": "C"}]}, "mark": {"type": "text", "font": "Liberation Sans", "fontWeight": "bold", "fontSize": 28, "color": "#231f20", "baseline": "middle", "align": "left"}, "encoding": {"text": {"field": "label", "type": "nominal"}}}
]
},
{
"width": 223, "height": 222,
"view": {"stroke": "#d1d3d4", "strokeWidth": 3},
"encoding": {
"x": {"field": "lx", "type": "quantitative", "scale": {"domain": [-1, 1.478], "nice": false, "zero": false}, "axis": {"values": [-1, 0, 1], "labelExpr": "datum.value < -0.5 ? '10⁻¹' : datum.value < 0.5 ? '10⁰' : '10¹'", "labelFont": "DejaVu Sans", "labelFontSize": 21, "labelColor": "#555555", "labelPadding": 16, "ticks": false, "domain": false, "grid": false, "labelFlush": false, "labelOverlap": false, "title": "s − s₀", "titleFont": "Liberation Serif", "titleFontStyle": "italic", "titleFontWeight": "normal", "titleFontSize": 26, "titleColor": "#444444", "titleY": 55, "titleBaseline": "middle"}},
"y": {"field": "ly", "type": "quantitative", "scale": {"domain": [-5.115, 0], "nice": false, "zero": false}, "axis": null}
},
"layer": [
{"data": {"name": "CR_dash"}, "mark": {"type": "line", "strokeWidth": 4, "color": "#d6484f", "strokeDash": [12, 8], "clip": true}, "encoding": {"order": {"field": "i", "type": "quantitative"}}},
{"data": {"name": "CR_peaks"}, "mark": {"type": "line", "strokeWidth": 4.4, "clip": true}, "encoding": {"color": {"field": "id", "type": "nominal", "scale": {"domain": ["p1", "p2", "p3", "p4"], "range": ["#b5367a", "#7b2382", "#4f1b75", "#140e36"]}, "legend": null}, "order": {"field": "i", "type": "quantitative"}}},
{"data": {"values": [{"lx": -0.601, "ly": -1.505, "lx2": -0.601, "ly2": -0.08}, {"lx": -0.601, "ly": -1.505, "lx2": 0.03, "ly2": -1.505}]}, "mark": {"type": "rule", "color": "#231f20", "strokeWidth": 1.3}, "encoding": {"x2": {"field": "lx2"}, "y2": {"field": "ly2"}}},
{"data": {"values": [{"lx": -0.601, "ly": -0.06}]}, "mark": {"type": "point", "shape": "triangle-up", "filled": true, "opacity": 1, "color": "#231f20", "size": 30}, "encoding": {}},
{"data": {"values": [{"lx": 0.045, "ly": -1.505}]}, "mark": {"type": "point", "shape": "triangle-right", "filled": true, "opacity": 1, "color": "#231f20", "size": 30}, "encoding": {}},
{"data": {"values": [{"lx": -0.601, "ly": -0.392, "lx2": -0.08, "ly2": -1.468}]}, "mark": {"type": "rule", "strokeWidth": 4.5, "stroke": {"gradient": "linear", "x1": 0, "y1": 0, "x2": 1, "y2": 1, "stops": [{"offset": 0, "color": "#6a1a7a"}, {"offset": 0.35, "color": "#c3366d"}, {"offset": 0.6, "color": "#f27b1f"}, {"offset": 0.85, "color": "#f8b36b"}, {"offset": 1, "color": "#fde8d2"}]}}, "encoding": {"x2": {"field": "lx2"}, "y2": {"field": "ly2"}}},
{"data": {"values": [{"lx": -0.64, "ly": -0.334, "label": "10⁴"}]}, "mark": {"type": "text", "font": "Liberation Serif", "fontSize": 16, "color": "#231f20", "baseline": "middle", "align": "right"}, "encoding": {"text": {"field": "label", "type": "nominal"}}},
{"data": {"values": [{"lx": -0.79, "ly": -0.892, "label": "n′"}, {"lx": -0.285, "ly": -1.855, "label": "n"}]}, "mark": {"type": "text", "font": "Liberation Serif", "fontStyle": "italic", "fontSize": 28, "color": "#231f20", "baseline": "middle", "align": "center"}, "encoding": {"text": {"field": "label", "type": "nominal"}}},
{"data": {"values": [{"lx": -1, "ly": 0}]}, "mark": {"type": "point", "shape": "circle", "filled": true, "opacity": 1, "color": "#140e36", "size": 110}, "encoding": {}}
]
}
],
"spacing": 8,
"bounds": "flush",
"resolve": {"scale": {"color": "independent"}}
}
]
}
